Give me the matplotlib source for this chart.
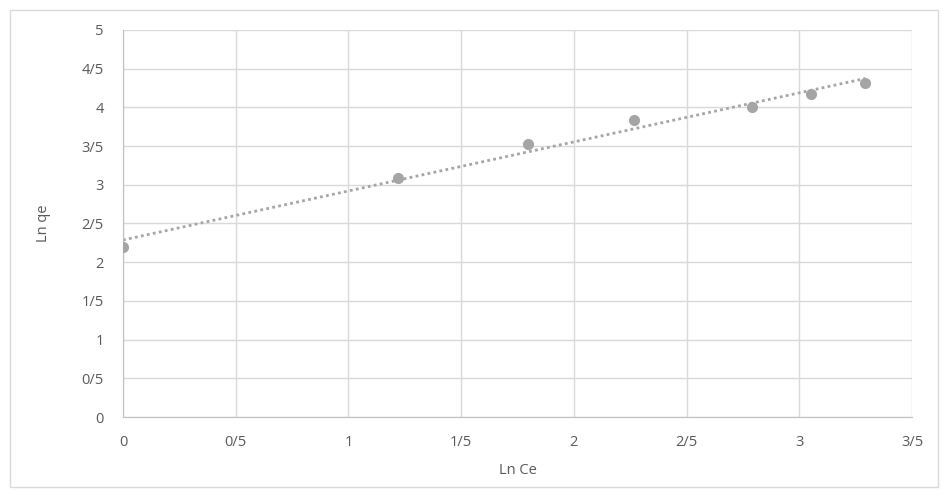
import matplotlib
matplotlib.use("Agg")
import matplotlib.pyplot as plt
import numpy as np
from matplotlib.patches import Rectangle

# values
ln_ce = [0.0, 1.222, 1.798, 2.265, 2.79, 3.052, 3.293]
ln_qe = [2.20, 3.087, 3.53, 3.835, 4.0, 4.174, 4.32]
x_ticks = [0, 0.5, 1, 1.5, 2, 2.5, 3, 3.5]
y_ticks = [0, 0.5, 1, 1.5, 2, 2.5, 3, 3.5, 4, 4.5, 5]

plt.rcParams["font.family"] = ["Open Sans", "DejaVu Sans"]

gray = "#a5a5a5"
txt = "#595959"

fig = plt.figure(figsize=(9.43, 4.9), dpi=100)
ax = fig.add_axes([123/943, 1-417/490, (912-123)/943, (417-30)/490])

ax.plot(ln_ce, ln_qe, "o", color=gray, markersize=7, zorder=3)

# linear trendline, Excel style
k, b = np.polyfit(ln_ce, ln_qe, 1)
xs = np.array([min(ln_ce), max(ln_ce)])
ax.plot(xs, k*xs + b, linestyle=(0, (1, 1.2)), color=gray, linewidth=2, zorder=2)

ax.set_xlim(0, 3.5)
ax.set_ylim(0, 5)
ax.set_xticks(x_ticks)
ax.set_yticks(y_ticks)
ax.set_xticklabels([("%g" % v).replace(".", "/") for v in x_ticks])
ax.set_yticklabels([("%g" % v).replace(".", "/") for v in y_ticks])
ax.tick_params(length=0, labelsize=10.5, colors=txt, pad=13)
ax.tick_params(axis="y", pad=14)
ax.grid(color="#d9d9d9", linewidth=1)
ax.set_axisbelow(True)
for s in ["top", "right"]:
    ax.spines[s].set_visible(False)
ax.spines["left"].set_color("#bfbfbf")
ax.spines["bottom"].set_color("#bfbfbf")

ax.set_xlabel("Ln Ce", fontsize=10.5, color=txt, labelpad=9)
ax.set_ylabel("Ln qe", fontsize=10.5, color=txt, labelpad=22)

fig.patches.append(Rectangle((10/943, 3/490), 928/943, 477/490, transform=fig.transFigure,
                             fill=False, edgecolor="#d9d9d9", linewidth=1))

fig.savefig("out.png", dpi=100)
